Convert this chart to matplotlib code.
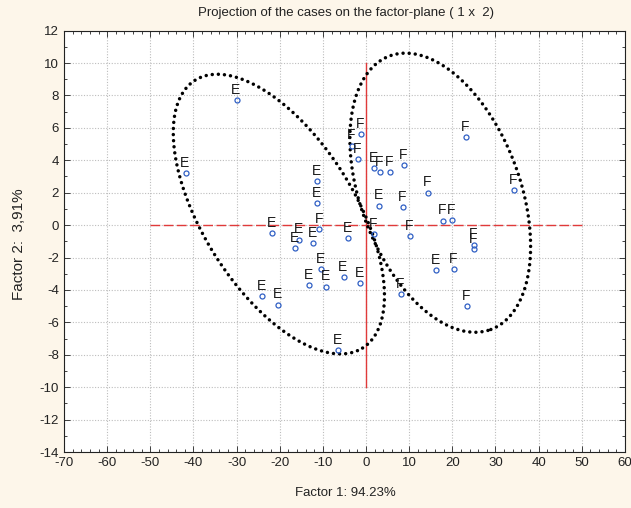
import numpy as np
import matplotlib
matplotlib.use("Agg")
import matplotlib.pyplot as plt
from matplotlib.ticker import MultipleLocator

plt.rcParams.update({
    "font.family": ["Liberation Sans", "DejaVu Sans"],
    "axes.unicode_minus": False,
    "axes.edgecolor": "#222",
    "xtick.color": "#222",
    "ytick.color": "#222",
})

# case coordinates on factor 1 / factor 2
e_x = [-30.0, -41.8, -11.4, -11.3, -21.8, -15.6, -16.4, -12.2, -4.2, 1.9,
       3.1, 16.2, -10.5, -13.2, -9.3, -5.2, -1.4, -24.1, -20.3, -6.5]
e_y = [7.7, 3.2, 2.7, 1.35, -0.5, -0.9, -1.4, -1.1, -0.8, 3.5,
       1.2, -2.8, -2.7, -3.7, -3.8, -3.2, -3.6, -4.4, -4.9, -7.7]
f_x = [-1.15, -3.2, -1.9, 3.2, 5.5, 8.8, 23.1, 34.2, 14.4, 8.5,
       17.9, 19.9, 1.9, 10.2, 25.0, 25.0, 20.3, 8.1, 23.3, -10.8]
f_y = [5.6, 4.9, 4.05, 3.25, 3.25, 3.7, 5.45, 2.15, 2.0, 1.1,
       0.27, 0.3, -0.55, -0.7, -1.2, -1.5, -2.7, -4.25, -5.0, -0.27]

# group ellipses: centre (data), semi-axes (x units), visual angle in degrees
ell_centres = [(-20.2, 0.68), (17.2, 2.0)]
ell_axes = [(36.6, 17.6), (33.8, 18.5)]
ell_angles = [-58.0, -69.7]

XLIM = (-70, 60)
YLIM = (-14, 12)

fig = plt.figure(figsize=(6.31, 5.08), dpi=100)
fig.patch.set_facecolor("#fdf6ea")
ax = fig.add_axes([0.1014, 0.1102, 0.889, 0.8295])
ax.set_facecolor("white")
ax.set_xlim(*XLIM)
ax.set_ylim(*YLIM)

# y units are stretched relative to x units on screen
bbox = ax.get_position()
px_x = bbox.width * 631 / (XLIM[1] - XLIM[0])
px_y = bbox.height * 508 / (YLIM[1] - YLIM[0])
ratio = px_y / px_x

ax.xaxis.set_major_locator(MultipleLocator(10))
ax.xaxis.set_minor_locator(MultipleLocator(2))
ax.yaxis.set_major_locator(MultipleLocator(2))
ax.yaxis.set_minor_locator(MultipleLocator(1))
ax.tick_params(which="both", direction="in", top=True, right=True,
               labelsize=9.5, width=0.6)
ax.tick_params(which="major", length=4)
ax.tick_params(which="minor", length=2)
ax.grid(which="major", linestyle=(0, (1, 1.5)), color="#bdbdbd", linewidth=0.8)
ax.set_axisbelow(True)

# reference axes
ax.plot([-50, 50], [0, 0], color="#e03a3a", linewidth=1.0,
        linestyle=(0, (7, 2.5)), zorder=2)
ax.plot([0, 0], [-10, 10], color="#e03a3a", linewidth=1.0, zorder=2)

# dotted ellipses
t = np.linspace(0, 2 * np.pi, 400)
for (cx, cy), (a, b), ang in zip(ell_centres, ell_axes, ell_angles):
    th = np.deg2rad(ang)
    u = a * np.cos(t) * np.cos(th) - b * np.sin(t) * np.sin(th)
    v = a * np.cos(t) * np.sin(th) + b * np.sin(t) * np.cos(th)
    ax.plot(cx + u, cy + v / ratio, color="black", linewidth=2.5,
            linestyle=(0, (0.01, 1.75)), dash_capstyle="round", zorder=3)

# case markers and labels
for xs, ys, lab in [(e_x, e_y, "E"), (f_x, f_y, "F")]:
    ax.plot(xs, ys, linestyle="none", marker="o", markersize=3.6,
            markerfacecolor="none", markeredgecolor="#2f5fc4",
            markeredgewidth=0.9, zorder=4)
    for x, y in zip(xs, ys):
        ax.annotate(lab, (x, y), xytext=(-0.5, 4.5), textcoords="offset points",
                    ha="center", va="baseline", fontsize=10, color="#1a1a1a",
                    zorder=5)

fig.text(0.548, 0.975, "Projection of the cases on the factor-plane ( 1 x  2)",
         ha="center", va="center", fontsize=9.5, color="#222")
fig.text(0.548, 0.03, "Factor 1: 94.23%", ha="center", va="center",
         fontsize=9.5, color="#222")
fig.text(0.03, 0.52, "Factor 2:  3,91%", ha="center", va="center",
         rotation=90, fontsize=11, color="#222")

fig.savefig("out.png", dpi=100, facecolor=fig.get_facecolor())
